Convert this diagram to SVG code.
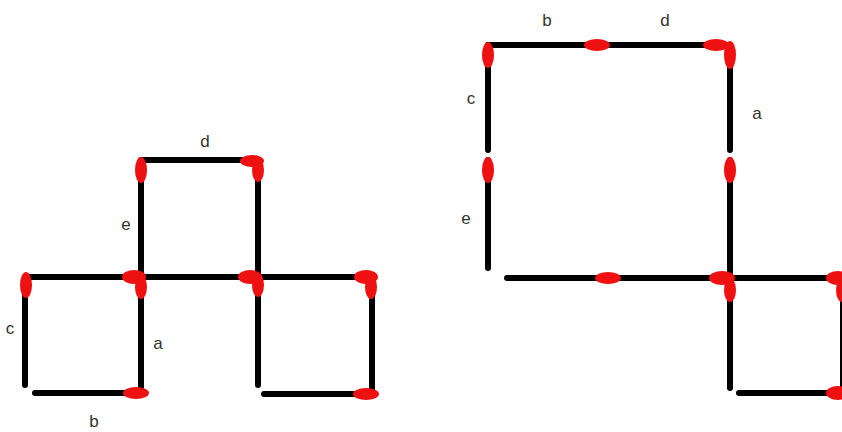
<svg xmlns="http://www.w3.org/2000/svg" width="842" height="432" viewBox="0 0 842 432">
<style>
.s{stroke:#000;stroke-width:6;stroke-linecap:round}
.h{fill:#ee1111}
.t{font-family:"Liberation Sans",Arial,sans-serif;font-size:17px;fill:#333;text-anchor:middle}
</style>
<rect width="842" height="432" fill="#fff"/>
<g id="sticks">
<g id="L-e"><line class="s" x1="141" y1="165" x2="141" y2="276"/></g>
<g id="L-d"><line class="s" x1="141" y1="160" x2="258" y2="160"/></g>
<g id="L-top-right"><line class="s" x1="258" y1="165" x2="258" y2="276"/></g>
<g id="L-row1"><line class="s" x1="25" y1="277" x2="141" y2="277"/></g>
<g id="L-row2"><line class="s" x1="141" y1="277" x2="258" y2="277"/></g>
<g id="L-row3"><line class="s" x1="258" y1="277" x2="372" y2="277"/></g>
<g id="L-c"><line class="s" x1="25" y1="280" x2="25" y2="385"/></g>
<g id="L-a"><line class="s" x1="141" y1="280" x2="141" y2="390"/></g>
<g id="L-vert3"><line class="s" x1="258" y1="280" x2="258" y2="385"/></g>
<g id="L-vert4"><line class="s" x1="372" y1="280" x2="372" y2="393"/></g>
<g id="L-b"><line class="s" x1="35" y1="393" x2="141" y2="393"/></g>
<g id="L-bottom-right"><line class="s" x1="264" y1="394" x2="372" y2="394"/></g>
<g id="R-c"><line class="s" x1="488" y1="45" x2="488" y2="150"/></g>
<g id="R-e"><line class="s" x1="488" y1="160" x2="488" y2="268"/></g>
<g id="R-b"><line class="s" x1="488" y1="45" x2="598" y2="45"/></g>
<g id="R-d"><line class="s" x1="598" y1="45" x2="725" y2="45"/></g>
<g id="R-a"><line class="s" x1="730" y1="45" x2="730" y2="150"/></g>
<g id="R-vert"><line class="s" x1="730" y1="160" x2="730" y2="276"/></g>
<g id="R-row1"><line class="s" x1="507" y1="278" x2="610" y2="278"/></g>
<g id="R-row2"><line class="s" x1="610" y1="278" x2="730" y2="278"/></g>
<g id="R-vert-down"><line class="s" x1="730" y1="280" x2="730" y2="388"/></g>
<g id="R-row3"><line class="s" x1="730" y1="278" x2="842" y2="278"/></g>
<g id="R-right-vert"><line class="s" x1="843" y1="285" x2="843" y2="393"/></g>
<g id="R-bottom"><line class="s" x1="739" y1="393" x2="842" y2="393"/></g>
</g>
<g id="heads">
<ellipse class="h" cx="141" cy="170" rx="6" ry="13"/>
<ellipse class="h" cx="252" cy="161" rx="12" ry="6"/>
<ellipse class="h" cx="258" cy="170" rx="6" ry="12"/>
<ellipse class="h" cx="134" cy="277" rx="12" ry="7"/>
<ellipse class="h" cx="250" cy="277" rx="12" ry="7"/>
<ellipse class="h" cx="366" cy="277" rx="12" ry="7"/>
<ellipse class="h" cx="26" cy="285" rx="6" ry="13"/>
<ellipse class="h" cx="141" cy="287" rx="6" ry="12"/>
<ellipse class="h" cx="258" cy="285" rx="6" ry="12"/>
<ellipse class="h" cx="371" cy="287" rx="6" ry="12"/>
<ellipse class="h" cx="136" cy="393" rx="13" ry="6"/>
<ellipse class="h" cx="366" cy="394" rx="13" ry="6"/>
<ellipse class="h" cx="488" cy="55" rx="6" ry="13"/>
<ellipse class="h" cx="488" cy="170" rx="6" ry="13"/>
<ellipse class="h" cx="597" cy="45" rx="13" ry="6"/>
<ellipse class="h" cx="716" cy="45" rx="13" ry="6"/>
<ellipse class="h" cx="730" cy="55" rx="6" ry="14"/>
<ellipse class="h" cx="730" cy="170" rx="6" ry="13"/>
<ellipse class="h" cx="608" cy="278" rx="13" ry="6"/>
<ellipse class="h" cx="722" cy="278" rx="13" ry="7"/>
<ellipse class="h" cx="730" cy="290" rx="6" ry="12"/>
<ellipse class="h" cx="838" cy="278" rx="12" ry="7"/>
<ellipse class="h" cx="842" cy="290" rx="6" ry="12"/>
<ellipse class="h" cx="838" cy="393" rx="12" ry="7"/>
</g>
<g id="labels">
<text class="t" x="205" y="147">d</text>
<text class="t" x="126" y="230">e</text>
<text class="t" x="10" y="334">c</text>
<text class="t" x="158" y="349">a</text>
<text class="t" x="94" y="427">b</text>
<text class="t" x="547" y="26">b</text>
<text class="t" x="665" y="26">d</text>
<text class="t" x="471" y="104">c</text>
<text class="t" x="757" y="119">a</text>
<text class="t" x="466" y="224">e</text>
</g>
</svg>
